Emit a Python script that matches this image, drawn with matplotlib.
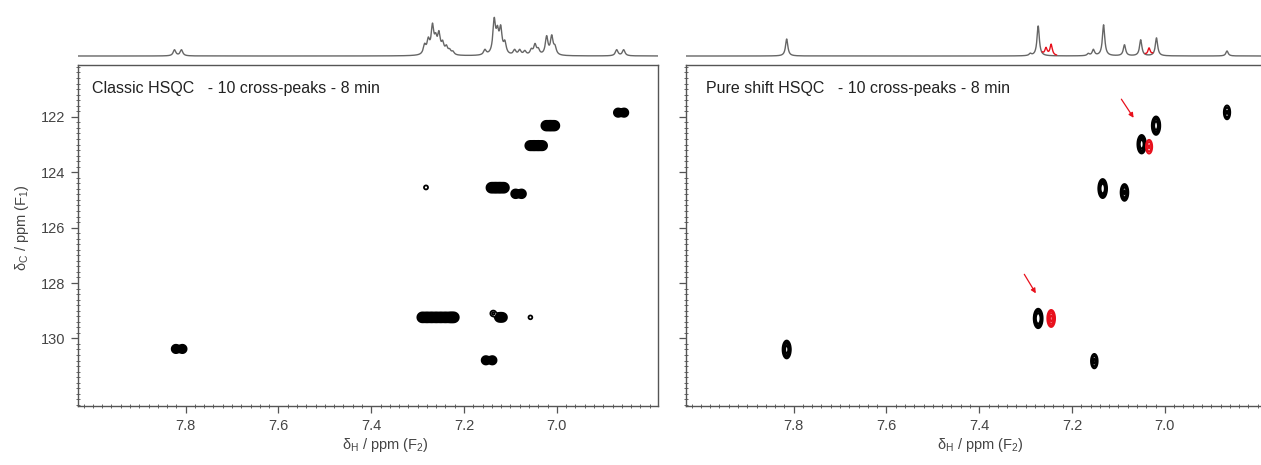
import numpy as np
import matplotlib
matplotlib.use('Agg')
import matplotlib.pyplot as plt
from matplotlib.ticker import MultipleLocator

plt.rcParams['font.family'] = ['Liberation Sans', 'DejaVu Sans']
plt.rcParams['mathtext.fontset'] = 'custom'
plt.rcParams['mathtext.rm'] = 'Liberation Sans'
plt.rcParams['mathtext.it'] = 'Liberation Sans:italic'

# ---------------- data ----------------
panel_titles = ['Classic HSQC   - 10 cross-peaks - 8 min',
                'Pure shift HSQC   - 10 cross-peaks - 8 min']
x_ticks = [7.8, 7.6, 7.4, 7.2, 7.0]
y_ticks = [122, 124, 126, 128, 130]
x_limits = (8.032, 6.782)
y_limits = (132.44, 120.13)

# classic HSQC cross peaks: F1 shift, F2 multiplet lines, amplitude
classic_c = [121.85, 122.32, 123.04, 124.56, 124.78, 124.55, 129.24, 129.24, 129.10, 129.24, 130.79, 130.38]
classic_lines = [[6.868, 6.855],
                 [7.023, 7.014, 7.005],
                 [7.058, 7.049, 7.040, 7.031],
                 [7.141, 7.132, 7.123, 7.114],
                 [7.089, 7.076],
                 [7.282],
                 [7.290, 7.280, 7.270, 7.260, 7.250, 7.240, 7.230, 7.222],
                 [7.124, 7.117],
                 [7.137],
                 [7.057],
                 [7.153, 7.139],
                 [7.821, 7.807]]
classic_amp = [1.0, 2.0, 1.6, 2.4, 1.2, 0.17, 2.4, 1.2, 0.3, 0.16, 1.0, 1.0]

# pure shift HSQC cross peaks
ps_h = [7.815, 7.273, 7.134, 7.087, 7.050, 7.019, 6.866, 7.152]
ps_c = [130.40, 129.28, 124.59, 124.73, 122.99, 122.32, 121.84, 130.82]
ps_amp = [2.0, 3.5, 3.0, 1.4, 2.5, 2.4, 0.6, 0.7]
ps_red_h = [7.245, 7.034]
ps_red_c = [129.28, 123.08]
ps_red_amp = [1.6, 0.6]

# 1D projections (ppm, height in px)
classic_1d_ppm = [7.824, 7.809,
                  7.285, 7.277, 7.268, 7.261, 7.254, 7.246, 7.238, 7.231, 7.224,
                  7.155, 7.135, 7.128, 7.121, 7.112,
                  7.091, 7.080, 7.069, 7.055, 7.047, 7.040,
                  7.022, 7.011, 7.004,
                  6.871, 6.856]
classic_1d_int = [6, 6,
                  9, 13, 27, 13, 19, 10, 7, 4, 3,
                  5, 33, 19, 24, 11,
                  5, 5, 4, 5, 10, 5,
                  18, 18, 7,
                  6, 6]
ps_1d_ppm = [7.815, 7.290, 7.273, 7.165, 7.154, 7.132, 7.087, 7.052, 7.018, 6.866]
ps_1d_int = [17, 2, 30, 2, 6, 31, 11, 16, 18, 5]
ps_1d_red_ppm = [7.256, 7.245, 7.034]
ps_1d_red_int = [7, 11, 7]

# ---------------- figure ----------------
W, H = 1261, 465
fig = plt.figure(figsize=(W / 100, H / 100), dpi=100)


def rect(x0, x1, ytop, ybot):
    return [x0 / W, 1 - ybot / H, (x1 - x0) / W, (ybot - ytop) / H]


ax_l = fig.add_axes(rect(78, 658, 65, 406))
ax_r = fig.add_axes(rect(686, 1266, 65, 406))
sp_l = fig.add_axes(rect(78, 658, 8, 57))
sp_r = fig.add_axes(rect(686, 1266, 8, 57))

xg = np.arange(6.77, 8.05, 0.0008)
yg = np.arange(120.0, 132.6, 0.015)


def gauss(g, c, s):
    return np.exp(-0.5 * ((g - c) / s) ** 2)


# classic surface
Zc = np.zeros((yg.size, xg.size))
for c, lines, a in zip(classic_c, classic_lines, classic_amp):
    gy = gauss(yg, c, 0.07)
    gx = sum(gauss(xg, h, 0.0042) for h in lines)
    Zc += a * np.outer(gy, gx)

Zp = np.zeros_like(Zc)
for h, c, a in zip(ps_h, ps_c, ps_amp):
    Zp += a * np.outer(gauss(yg, c, 0.13), gauss(xg, h, 0.0035))
Zr = np.zeros_like(Zc)
for h, c, a in zip(ps_red_h, ps_red_c, ps_red_amp):
    Zr += a * np.outer(gauss(yg, c, 0.13), gauss(xg, h, 0.0035))

levels_c = [0.1, 0.25, 0.45, 0.7, 1.0, 1.4, 1.9, 2.5]
levels_p = [0.1, 0.25, 0.55, 1.2]
ax_l.contourf(xg, yg, Zc, levels=[0.5, 100], colors='black')
ax_l.contour(xg, yg, Zc, levels=levels_c, colors='black', linewidths=1.3)
ax_r.contour(xg, yg, Zp, levels=levels_p, colors='black', linewidths=1.5)
ax_r.contour(xg, yg, Zr, levels=levels_p, colors='#e8101c', linewidths=1.4)

for ax, title in zip((ax_l, ax_r), panel_titles):
    ax.set_xlim(*x_limits)
    ax.set_ylim(*y_limits)
    ax.set_xticks(x_ticks)
    ax.set_yticks(y_ticks)
    ax.xaxis.set_minor_locator(MultipleLocator(0.02))
    ax.yaxis.set_minor_locator(MultipleLocator(0.2))
    ax.tick_params(which='major', direction='out', length=5, width=0.9, color='#555',
                   labelsize=10.5, labelcolor='#444', pad=4)
    ax.tick_params(which='minor', direction='inout', length=3.5, width=0.7, color='#666')
    for sp in ax.spines.values():
        sp.set_color('#555')
        sp.set_linewidth(1.0)
    ax.text(0.024 if ax is ax_l else 0.034, 0.93, title, transform=ax.transAxes,
            fontsize=11.5, color='#222', va='center', ha='left')
ax_r.tick_params(axis='y', labelleft=False)

fig.text(385 / W, 1 - 445 / H, r'δ$_\mathrm{H}$ / ppm (F$_2$)', ha='center', va='center',
         fontsize=10.5, color='#444')
fig.text(980 / W, 1 - 445 / H, r'δ$_\mathrm{H}$ / ppm (F$_2$)', ha='center', va='center',
         fontsize=10.5, color='#444')
fig.text(22 / W, 1 - 228 / H, r'δ$_\mathrm{C}$ / ppm (F$_1$)', ha='center', va='center',
         fontsize=10.5, color='#444', rotation=90)

# arrows
ax_r.annotate('', xy=(7.064, 122.12), xytext=(7.097, 121.28),
              arrowprops=dict(arrowstyle='-|>', color='#e8101c', lw=0.9, mutation_scale=7))
ax_r.annotate('', xy=(7.275, 128.46), xytext=(7.306, 127.60),
              arrowprops=dict(arrowstyle='-|>', color='#e8101c', lw=0.9, mutation_scale=7))

# 1D projections
xs = np.arange(6.77, 8.05, 0.0004)


def lor(g, c, w):
    return 1.0 / (1.0 + ((g - c) / w) ** 2)


spec_l = sum(i * lor(xs, p, 0.0034) for p, i in zip(classic_1d_ppm, classic_1d_int))
spec_r = sum(i * lor(xs, p, 0.0030) for p, i in zip(ps_1d_ppm, ps_1d_int))
spec_red = sum(i * lor(xs, p, 0.0030) for p, i in zip(ps_1d_red_ppm, ps_1d_red_int))
sp_l.plot(xs, spec_l, color='#666', lw=1.0)
sp_r.plot(xs, spec_r, color='#666', lw=1.0)
mask = (spec_red > 0.8) & (spec_red > 0.35 * spec_r)
red_line = np.where(mask, spec_r + spec_red, np.nan)
sp_r.plot(xs, red_line, color='#e8101c', lw=1.0)
for sp in (sp_l, sp_r):
    sp.set_xlim(*x_limits)
    sp.set_ylim(-1, 48)
    sp.axis('off')

fig.savefig('out.png', dpi=100, facecolor='white')
